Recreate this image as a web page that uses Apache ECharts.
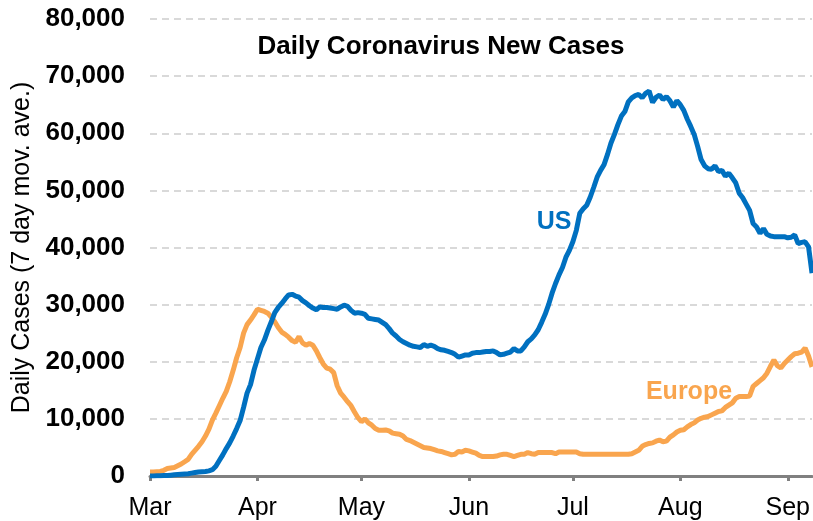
<!DOCTYPE html>
<html lang="en">
<head>
    <meta charset="UTF-8">
    <title>Daily Coronavirus New Cases</title>
    <style>
        html, body { margin: 0; padding: 0; background: #fff; }
        #main { width: 813px; height: 521px; }
    </style>
</head>
<body>
<div id="main"></div>

<script src="https://cdn.jsdelivr.net/npm/echarts@6/dist/echarts.min.js"></script>
<script>
    // months shown on the x axis, one category per day from Mar 1 to Sep 8
    var monthNames = ['Mar', 'Apr', 'May', 'Jun', 'Jul', 'Aug', 'Sep'];
    var monthDays = [31, 30, 31, 30, 31, 31, 8];

    // 7 day moving average of daily new cases (one value per day)
    var usCases = [
        0, 0, 50, 50, 100, 100, 150, 200, 250, 300,
        350, 400, 500, 600, 700, 750, 800, 900, 1100, 1700,
        2700, 3700, 4800, 5800, 7000, 8300, 9700, 12000, 14500, 16000,
        18500, 20500, 22500, 23800, 25500, 27000, 28600, 29500, 30200, 31000,
        31700, 31800, 31500, 31300, 30700, 30300, 29800, 29400, 29100, 29600,
        29500, 29500, 29400, 29300, 29200, 29600, 29900, 29700, 29000, 28500,
        28600, 28500, 28300, 27600, 27500, 27400, 27300, 26900, 26500, 25800,
        25000, 24500, 23900, 23500, 23200, 22900, 22700, 22600, 22500, 23000,
        22700, 22900, 22700, 22300, 22100, 22000, 21800, 21600, 21300, 20800,
        21000, 21200, 21200, 21500, 21600, 21600, 21700, 21800, 21800, 21900,
        21600, 21200, 21300, 21500, 21700, 22300, 21900, 21900, 22600, 23500,
        24000, 24700, 25600, 26900, 28300, 30000, 32000, 33700, 35200, 36500,
        38300, 39500, 41000, 43000, 46000, 46800, 47400, 48800, 50500, 52300,
        53500, 54500, 56300, 58300, 59800, 61500, 63000, 63800, 65500, 66200,
        66600, 66800, 66200, 67000, 67400, 65400, 66300, 66700, 65900, 66400,
        65700, 64600, 65700, 65000, 64000, 62500, 61200, 59800, 57700, 55400,
        54300, 53800, 53700, 54300, 53300, 53500, 52500, 53000, 52200, 51300,
        49500, 48700, 47600, 46500, 44200, 43600, 42500, 43300, 42300, 42000,
        41900, 41900, 41900, 41900, 41700, 41800, 42200, 40700, 40900, 41000,
        40100, 35500
    ];

    var europeCases = [
        700, 700, 750, 800, 1000, 1300, 1400, 1500, 1800, 2100,
        2500, 2900, 3800, 4500, 5200, 6000, 7000, 8200, 9800, 11000,
        12300, 13600, 14800, 16500, 18500, 20700, 22500, 25000, 26500, 27300,
        28200, 29200, 29000, 28800, 28500, 27800, 27000, 26000, 25200, 24800,
        24300, 23700, 23400, 24400, 23300, 22900, 23200, 22900, 21900, 20700,
        19600, 18900, 18700, 18100, 15800, 14500, 13800, 13000, 12300, 11200,
        10200, 9500, 10000, 9300, 8900, 8300, 8000, 8000, 8050, 7900,
        7500, 7400, 7300, 7000, 6400, 6200, 5900, 5600, 5300, 5000,
        4900, 4800, 4600, 4400, 4300, 4100, 3900, 3700, 3800, 4300,
        4200, 4500, 4400, 4200, 4000, 3600, 3400, 3400, 3400, 3400,
        3500, 3700, 3800, 3800, 3600, 3400, 3600, 3800, 3800, 4100,
        3900, 3800, 4100, 4100, 4100, 4100, 4100, 3900, 4200, 4200,
        4200, 4200, 4200, 4200, 3900, 3800, 3800, 3800, 3800, 3800,
        3800, 3800, 3800, 3800, 3800, 3800, 3800, 3800, 3800, 3900,
        4200, 4500, 5200, 5500, 5700, 5800, 6100, 6300, 6000, 6100,
        6800, 7200, 7700, 8000, 8100, 8600, 9000, 9300, 9800, 10100,
        10300, 10400, 10700, 11000, 11300, 11400, 12000, 12400, 12800, 13600,
        13900, 13900, 13900, 14000, 15700, 16200, 16700, 17200, 18000, 19200,
        20300, 19300, 18900, 19700, 20300, 20900, 21400, 21500, 21700, 22400,
        21000, 19100
    ];

    var yTicks = [0, 10000, 20000, 30000, 40000, 50000, 60000, 70000, 80000];

    var fontName = 'Liberation Sans, Arial, sans-serif';
    var usColor = '#0070C0';
    var europeColor = '#F9A54E';

    // one category per day, named like "Mar 1"
    var days = [];
    monthNames.forEach(function (m, i) {
        for (var d = 1; d <= monthDays[i]; d++) {
            days.push(m + ' ' + d);
        }
    });

    function isMonthStart(index, value) {
        return value.split(' ')[1] === '1';
    }

    var option = {
        animation: false,
        grid: { left: 150, right: 0, top: 19, bottom: 45 },
        xAxis: {
            type: 'category',
            data: days,
            boundaryGap: false,
            axisLine: { lineStyle: { color: '#808080', width: 3 } },
            axisTick: { interval: isMonthStart, length: 5, lineStyle: { color: '#808080', width: 3 } },
            axisLabel: {
                interval: isMonthStart,
                formatter: function (v) { return v.split(' ')[0]; },
                color: '#000', fontSize: 25, fontFamily: fontName, margin: 20
            },
            splitLine: { show: false }
        },
        yAxis: {
            type: 'value',
            min: yTicks[0],
            max: yTicks[yTicks.length - 1],
            interval: yTicks[1] - yTicks[0],
            name: 'Daily Cases (7 day mov. ave.)',
            nameLocation: 'middle',
            nameGap: 114,
            nameTextStyle: { color: '#000', fontSize: 25, fontFamily: fontName },
            axisLine: { show: false },
            axisTick: { show: false },
            axisLabel: {
                formatter: function (v) { return v.toLocaleString('en-US'); },
                color: '#000', fontSize: 26, fontWeight: 'bold', fontFamily: fontName, margin: 25
            },
            splitLine: { lineStyle: { color: '#D9D9D9', width: 2, type: [7, 5] } }
        },
        series: [
            {
                name: 'Europe',
                type: 'line',
                data: europeCases,
                showSymbol: false,
                lineStyle: { color: europeColor, width: 5 },
                z: 2
            },
            {
                name: 'US',
                type: 'line',
                data: usCases,
                showSymbol: false,
                lineStyle: { color: usColor, width: 5 },
                z: 3
            }
        ],
        graphic: [
            {
                type: 'text', x: 441, y: 47,
                style: { text: 'Daily Coronavirus New Cases', fill: '#000', fontSize: 26, fontWeight: 'bold',
                    fontFamily: fontName, align: 'center', verticalAlign: 'middle' }
            },
            {
                type: 'text', x: 554, y: 222,
                style: { text: 'US', fill: usColor, fontSize: 25, fontWeight: 'bold',
                    fontFamily: fontName, align: 'center', verticalAlign: 'middle' }
            },
            {
                type: 'text', x: 689, y: 392,
                style: { text: 'Europe', fill: europeColor, fontSize: 25, fontWeight: 'bold',
                    fontFamily: fontName, align: 'center', verticalAlign: 'middle' }
            }
        ]
    };

    var myChart = echarts.init(document.getElementById('main'));
    myChart.setOption(option);
</script>
</body>
</html>
